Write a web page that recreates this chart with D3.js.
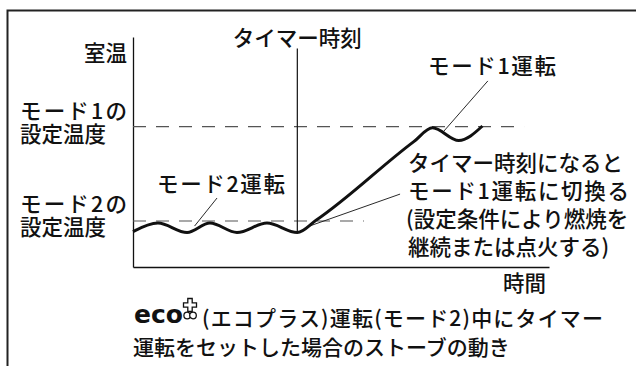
<!DOCTYPE html>
<html>
<head>
<meta charset="utf-8">
<script src="https://cdn.jsdelivr.net/npm/d3@7"></script>
<style>
  body { margin: 0; background: #fff; }
  svg { display: block; }
  text { font-family: "Noto Sans CJK JP", sans-serif; fill: #111; font-weight: 500; }
</style>
</head>
<body>
<svg id="chart" width="636" height="366"></svg>
<script>
// room temperature curve (time, temp), arbitrary units 0..100
var curveTime = [0, 6, 13, 18.5, 25, 32.2, 39.5, 44, 67.5, 72, 78.3, 84];
var curveTemp = [15.4, 19.1, 15, 19.1, 15, 19.1, 15, 20.3, 54.5, 60.5, 55, 61.3];

// set temperatures and where their dashed guides end
var setTemps = [61, 20];
var setEnds = [94, 55.5];
var timerTime = 39.5;

// leader lines [x1, y1, x2, y2]
var leaders = [
    [20.2, 30, 14.8, 17.8],
    [85.3, 80.9, 74.6, 58.8],
    [64.2, 31.7, 41.8, 17.4]
];

var yLabels = [["室温"], ["モード1の", "設定温度"], ["モード2の", "設定温度"]];
var noteLines = ["タイマー時刻になると", "モード1運転に切換る", "(設定条件により燃焼を", "継続または点火する)"];
var caption = ["(エコプラス)運転(モード2)中にタイマー", "運転をセットした場合のストーブの動き"];

var svg = d3.select("#chart");
var margin = {left: 133, top: 37, right: 87, bottom: 99};
var W = 636, H = 366;

var x = d3.scaleLinear().domain([0, 100]).range([margin.left, W - margin.right]);
var y = d3.scaleLinear().domain([0, 100]).range([H - margin.bottom, margin.top]);

// outer frame (open at right and bottom)
svg.append("path")
    .attr("d", "M7.5," + H + "V10.5H" + W)
    .attr("fill", "none")
    .attr("stroke", "#222")
    .attr("stroke-width", 2);

// axes
svg.append("g")
    .attr("transform", "translate(" + x(0) + ",0)")
    .call(d3.axisLeft(y).tickValues([]).tickSizeOuter(0))
    .select(".domain").attr("stroke", "#111").attr("stroke-width", 1.3);
svg.append("g")
    .attr("transform", "translate(0," + y(0) + ")")
    .call(d3.axisBottom(x).tickValues([]).tickSizeOuter(0))
    .select(".domain").attr("stroke", "#111").attr("stroke-width", 1.3);

// dashed set-temperature guides
svg.selectAll(".guide").data(setTemps).enter().append("line")
    .attr("class", "guide")
    .attr("x1", x(0)).attr("x2", function(d, i) { return x(setEnds[i]); })
    .attr("y1", function(d) { return y(d); }).attr("y2", function(d) { return y(d); })
    .attr("stroke", "#555")
    .attr("stroke-width", 1.2)
    .attr("stroke-dasharray", "13,10");

// timer moment
svg.append("line")
    .attr("x1", x(timerTime)).attr("x2", x(timerTime))
    .attr("y1", y(95)).attr("y2", y(15))
    .attr("stroke", "#111").attr("stroke-width", 1.2);

// leaders
svg.selectAll(".leader").data(leaders).enter().append("line")
    .attr("x1", function(d) { return x(d[0]); }).attr("y1", function(d) { return y(d[1]); })
    .attr("x2", function(d) { return x(d[2]); }).attr("y2", function(d) { return y(d[3]); })
    .attr("stroke", "#111").attr("stroke-width", 0.9);

// temperature curve
var line = d3.line()
    .x(function(d) { return x(d[0]); })
    .y(function(d) { return y(d[1]); })
    .curve(d3.curveMonotoneX);
svg.append("path")
    .datum(d3.zip(curveTime, curveTemp))
    .attr("d", line)
    .attr("fill", "none")
    .attr("stroke", "#111")
    .attr("stroke-width", 3)
    .attr("stroke-linejoin", "round");

var fs = 21.5;

function label(tx, ty, str, anchor, len) {
    var t = svg.append("text").attr("x", tx).attr("y", ty)
        .attr("text-anchor", anchor || "start")
        .style("font-size", fs + "px").text(str);
    if (len) t.attr("textLength", len).attr("lengthAdjust", "spacing");
    return t;
}

// y-side labels
label(127, 61, yLabels[0][0], "end");
[[119, yLabels[1]], [212, yLabels[2]]].forEach(function(p) {
    var t = svg.append("text").style("font-size", fs + "px");
    p[1].forEach(function(s, i) {
        var ts = t.append("tspan").attr("x", 20).attr("y", p[0] + i * 23).text(s);
        if (i == 0) ts.attr("textLength", 107).attr("lengthAdjust", "spacing");
    });
});

// in-chart labels
label(x(timerTime), 46, "タイマー時刻", "middle");
label(428, 74, "モード1運転", "start", 128);
label(157, 192, "モード2運転", "start", 128);

var note = svg.append("text").style("font-size", fs + "px");
noteLines.forEach(function(s, i) {
    var ts = note.append("tspan").attr("x", i == 2 ? 406 : 408).attr("y", 171 + i * 28).text(s);
    if (i == 1) ts.attr("textLength", 221).attr("lengthAdjust", "spacing");
});

label(546, 291, "時間", "end");

// caption with eco+ mark
svg.append("text").attr("x", 134).attr("y", 323)
    .style("font-family", "'DejaVu Sans', sans-serif")
    .style("font-weight", "bold")
    .style("font-size", "25px")
    .attr("textLength", 49).attr("lengthAdjust", "spacingAndGlyphs")
    .text("eco");
var mark = svg.append("g").attr("transform", "translate(190,305)")
    .attr("fill", "#fff").attr("stroke", "#111").attr("stroke-width", 1.3);
mark.append("circle").attr("cx", -2.8).attr("cy", 10.5).attr("r", 3.3);
mark.append("circle").attr("cx", 3).attr("cy", 10.5).attr("r", 3.3);
mark.append("path").attr("d", "M-2.2,-6.5h4.4v4.3h4.3v4.4h-4.3v4.3h-4.4v-4.3h-4.3v-4.4h4.3z");

var cap = svg.append("text").style("font-size", "21px");
cap.append("tspan").attr("x", 202).attr("y", 326)
    .attr("textLength", 401).attr("lengthAdjust", "spacing").text(caption[0]);
cap.append("tspan").attr("x", 133).attr("y", 355).text(caption[1]);
</script>
</body>
</html>
